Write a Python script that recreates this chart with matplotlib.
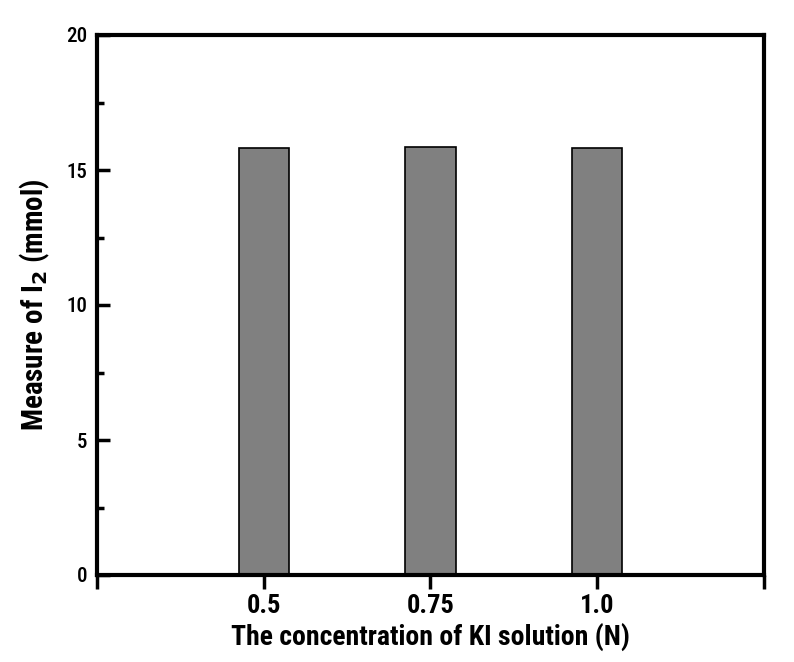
import matplotlib
matplotlib.use("Agg")
import matplotlib.pyplot as plt
from matplotlib.ticker import MultipleLocator, FixedLocator
from matplotlib import font_manager

names = {f.name for f in font_manager.fontManager.ttflist}
prefs = ['Liberation Sans Narrow', 'Arial Narrow', 'Roboto Condensed', 'PT Sans Narrow',
         'Open Sans Condensed', 'Archivo Narrow', 'Barlow Semi Condensed', 'Liberation Sans']
fam = [p for p in prefs if p in names][0]
plt.rcParams['font.family'] = [fam, 'DejaVu Sans']

categories = ['0.5', '0.75', '1.0']
values = [15.80, 15.85, 15.80]
ytick_vals = [0, 5, 10, 15, 20]

fig = plt.figure(figsize=(7.94, 6.62), dpi=100)
ax = fig.add_axes([97/794, 1 - 575/662, (764-97)/794, (575-35)/662])

pos = list(range(1, len(categories) + 1))
ax.bar(pos, values, width=0.3, color='#808080', edgecolor='black', linewidth=1.2, zorder=2)

ax.set_xlim(0, 4)
ax.set_ylim(0, 20)

ax.xaxis.set_major_locator(FixedLocator([0] + pos + [4]))
ax.set_xticklabels([''] + categories + [''], fontsize=19, fontweight='bold')
ax.tick_params(axis='x', direction='out', length=10, width=2.5, pad=4)

ax.yaxis.set_major_locator(FixedLocator(ytick_vals))
ax.yaxis.set_minor_locator(MultipleLocator(2.5))
ax.set_yticklabels([str(v) for v in ytick_vals], fontsize=15, fontweight='medium')
ax.tick_params(axis='y', which='major', direction='in', length=9, width=2.5, pad=7)
ax.tick_params(axis='y', which='minor', direction='in', length=5, width=2.5)

for s in ax.spines.values():
    s.set_linewidth(3)

ax.set_xlabel('The concentration of KI solution (N)', fontsize=20, fontweight='bold', labelpad=3)
ax.set_ylabel(r'Measure of I$_\mathbf{2}$ (mmol)', fontsize=21, fontweight='bold', labelpad=10)

fig.savefig('out.png', dpi=100)
